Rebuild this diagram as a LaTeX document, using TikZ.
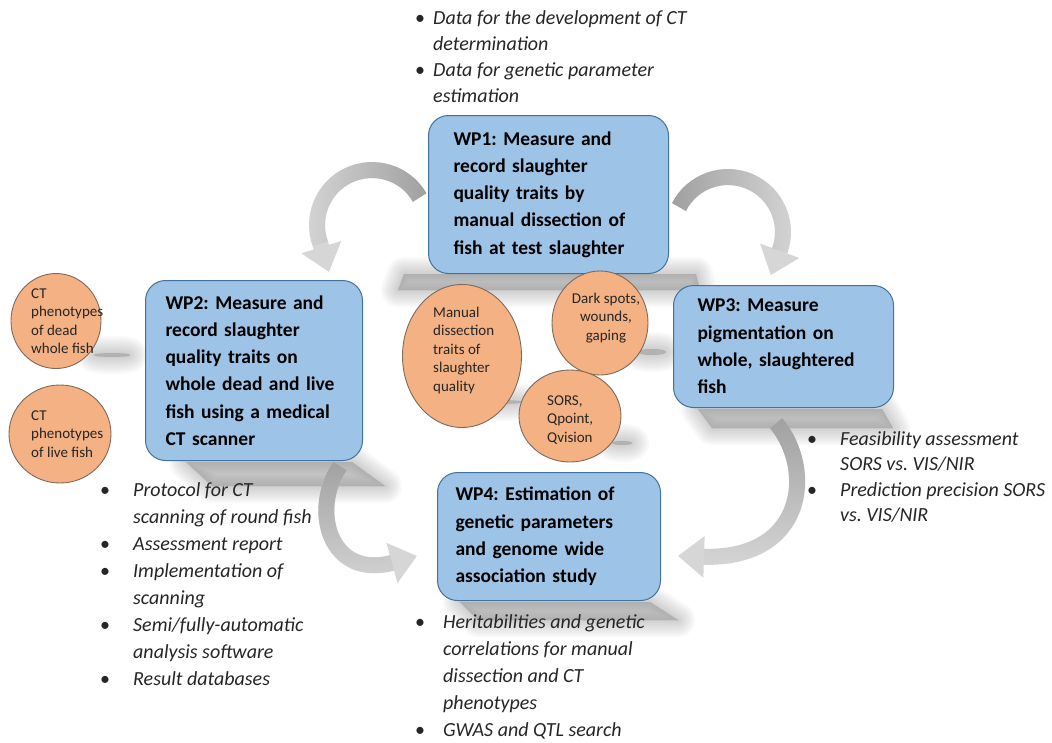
\documentclass[tikz,border=0pt]{standalone}
\usepackage{fontspec}
\setmainfont{Carlito}
\usetikzlibrary{arrows.meta,shapes.geometric,fadings}
\definecolor{boxfill}{HTML}{9DC3E6}
\definecolor{boxline}{HTML}{41719C}
\definecolor{circfill}{HTML}{F4B183}
\definecolor{circline}{HTML}{80695A}
\definecolor{arrdark}{HTML}{A0A0A0}
\definecolor{arrlight}{HTML}{D6D6D6}
\definecolor{txt}{HTML}{262626}
\definecolor{shadowgray}{HTML}{7A7A7A}
\tikzfading[name=opqRight, left color=transparent!100, right color=transparent!0]
\tikzfading[name=opqLeft, left color=transparent!0, right color=transparent!100]
\tikzfading[name=opqTop, top color=transparent!0, bottom color=transparent!100]
\frenchspacing
\newcommand\softshade[1]{%
  \foreach \w in {34,30,26,22,18,14,10,6,2}{\path[draw=shadowgray, fill=shadowgray, line width=\w pt, line join=round, opacity=0.042] #1;}}
\begin{document}
\begin{tikzpicture}[x=1pt,y=-1pt,
  wpbox/.style={draw=boxline, line width=1pt, fill=boxfill, rounded corners=20pt, anchor=north west, align=left, font=\frenchspacing\fontsize{19.5}{27.3}\selectfont\bfseries, text=black},
  circ/.style={ellipse, draw=circline, line width=0.9pt, fill=circfill, inner sep=0pt},
  ctext/.style={font=\fontsize{15}{18.5}\selectfont, text=black!85, align=left, inner sep=0pt},
  blist/.style={anchor=base west, inner sep=0pt, text=txt, font=\fontsize{20}{27}\selectfont\itshape},
  band/.style={line width=16pt, draw=arrlight, -{Triangle[width=40pt,length=26pt]}},
  bandfade/.style={line width=16pt, draw=arrdark},
]
\fill[white] (0,0) rectangle (1052,742);
\useasboundingbox (0,0) rectangle (1052,742);

% shadows
\softshade{(404,274) -- (696,274) -- (700,290) -- (398,290) -- cycle}
\softshade{(186,462) -- (352,462) -- (385,486) -- (212,486) -- cycle}
\softshade{(698,409) -- (882,409) -- (893,428) -- (712,428) -- cycle}
\softshade{(460,602) -- (650,602) -- (678,620) -- (478,620) -- cycle}
\softshade{(112,355) ellipse [x radius=18, y radius=2]}
\softshade{(500,402) ellipse [x radius=22, y radius=2]}
\softshade{(652,352) ellipse [x radius=14, y radius=3]}
\softshade{(622,443) ellipse [x radius=10, y radius=2]}

% arrow coordinates
\coordinate (a1s) at (419.6,197.5);
\coordinate (a1m) at (348.8,175.2);
\coordinate (a1b) at (320.3,243.8);
\coordinate (a1e) at (329,272);
\coordinate (a2s) at (679.0,207.0);
\coordinate (a2m) at (749.9,181.6);
\coordinate (a2b) at (779.7,250.8);
\coordinate (a2e) at (770.8,275.2);
\coordinate (a3s) at (776,423);
\coordinate (a3e) at (678,556);
\coordinate (a4s) at (340,466);
\coordinate (a4e) at (417,556);

% arrows
\draw[band] (a1s) .. controls (405.4,172.8) and (374.6,163.2) .. (a1m) .. controls (323.0,187.2) and (310.6,217.0) .. (a1b) -- (a1e);
\draw[bandfade, path fading=opqRight] (a1s) .. controls (405.4,172.8) and (374.6,163.2) .. (a1m) .. controls (323.0,187.2) and (310.6,217.0) .. (a1b);
\draw[band] (a2s) .. controls (692.2,181.2) and (723.3,170.0) .. (a2m) .. controls (776.5,193.2) and (789.6,223.5) .. (a2b) -- (a2e);
\draw[bandfade, path fading=opqLeft] (a2s) .. controls (692.2,181.2) and (723.3,170.0) .. (a2m) .. controls (776.5,193.2) and (789.6,223.5) .. (a2b);
\draw[band] (a3s) .. controls (815,470) and (805,560) .. (a3e);
\draw[bandfade, path fading=opqTop, shorten >=26pt] (a3s) .. controls (815,470) and (805,560) .. (a3e);
\draw[band] (a4s) .. controls (310,510) and (330,580) .. (a4e);
\draw[bandfade, path fading=opqTop, shorten >=26pt] (a4s) .. controls (310,510) and (330,580) .. (a4e);

% boxes
\node[wpbox, minimum width=240, minimum height=158, text width=190, inner xsep=25] (wp1) at (428,115)
  {WP1: Measure and\\record slaughter\\quality traits by\\manual dissection of\\fish at test slaughter};
\node[wpbox, minimum width=217, minimum height=180, text width=177, inner xsep=20] (wp2) at (145,280)
  {WP2: Measure and\\record slaughter\\quality traits on\\whole dead and live\\fish using a medical\\CT scanner};
\node[wpbox, minimum width=220, minimum height=122, text width=172, inner xsep=24] (wp3) at (673,285)
  {WP3: Measure\\pigmentation on\\whole, slaughtered\\fish};
\node[wpbox, minimum width=223, minimum height=128, text width=187, inner xsep=18] (wp4) at (437,472)
  {WP4: Estimation of\\genetic parameters\\and genome wide\\association study};

% circles
\node[circ, minimum width=90, minimum height=95] (c1) at (56,321) {};
\node[ctext, anchor=west] (t1) at (31,321) {CT\\phenotypes\\of dead\\whole fish};
\node[circ, minimum width=102, minimum height=98] (c2) at (60,434) {};
\node[ctext, anchor=west] (t2) at (31,434) {CT\\phenotypes\\of live fish};
\node[circ, minimum width=119, minimum height=143] (c3) at (462,356) {};
\node[ctext, anchor=west] (t3) at (433,350) {Manual\\dissection\\traits of\\slaughter\\quality};
\node[circ, minimum width=96, minimum height=104] (c4) at (600,323) {};
\node[ctext, align=center] (t4) at (606,318) {Dark spots,\\wounds,\\gaping};
\node[circ, minimum width=102, minimum height=92] (c5) at (570,416) {};
\node[ctext, anchor=west] (t5) at (547,420) {SORS,\\Qpoint,\\Qvision};

% bullet lists
\node[blist, font=\fontsize{20}{26}\selectfont\itshape] (l1) at (415,24.5)
  {\begin{tabular}[t]{@{}p{18pt}@{}l@{}}{\upshape •} & Data for the development of CT\\ & determination\\ {\upshape •} & Data for genetic parameter\\ & estimation\end{tabular}};
\node[blist] (l2) at (100,496.5)
  {\begin{tabular}[t]{@{}p{33pt}@{}l@{}}{\upshape •} & Protocol for CT\\ & scanning of round fish\\ {\upshape •} & Assessment report\\ {\upshape •} & Implementation of\\ & scanning\\ {\upshape •} & Semi/fully-automatic\\ & analysis software\\ {\upshape •} & Result databases\end{tabular}};
\node[blist, font=\fontsize{20}{25.5}\selectfont\itshape] (l3) at (807,445)
  {\begin{tabular}[t]{@{}p{33pt}@{}l@{}}{\upshape •} & Feasibility assessment\\ & SORS vs. VIS/NIR\\ {\upshape •} & Prediction precision SORS\\ & vs. VIS/NIR\end{tabular}};
\node[blist] (l4) at (415,628.5)
  {\begin{tabular}[t]{@{}p{28pt}@{}l@{}}{\upshape •} & Heritabilities and genetic\\ & correlations for manual\\ & dissection and CT\\ & phenotypes\\ {\upshape •} & GWAS and QTL search\end{tabular}};
\end{tikzpicture}
\end{document}
